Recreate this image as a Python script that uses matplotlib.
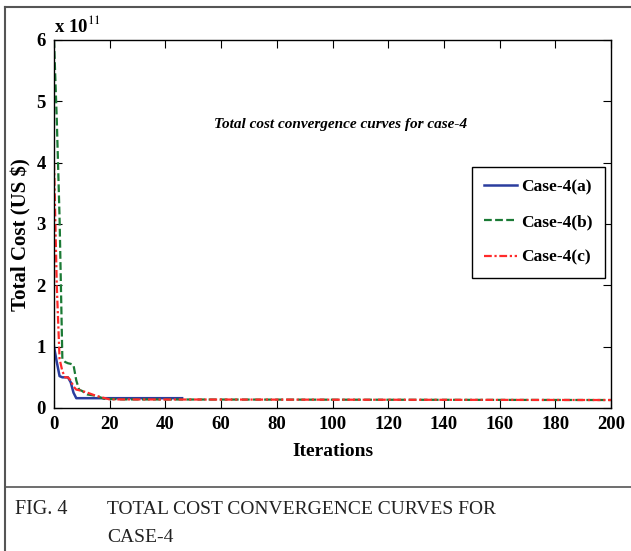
import matplotlib as mpl
mpl.use('Agg')
import matplotlib.pyplot as plt
from matplotlib.lines import Line2D

plt.rcParams['font.family'] = 'serif'
plt.rcParams['font.serif'] = ['Liberation Serif', 'DejaVu Serif']
plt.rcParams['mathtext.fontset'] = 'stix'

# convergence data (values in units of 1e11 US $)
iter_a = [0, 1, 2, 3, 4, 5, 6, 7, 8, 10, 20, 30, 46]
cost_a = [1.0, 0.75, 0.52, 0.5, 0.5, 0.5, 0.42, 0.25, 0.16, 0.16, 0.16, 0.16, 0.16]

iter_b = [0, 1, 2, 3, 4, 5, 6, 7, 8, 9, 10, 12, 15, 18, 25, 200]
cost_b = [6.0, 4.7, 3.1, 0.8, 0.75, 0.73, 0.72, 0.7, 0.45, 0.3, 0.28, 0.22, 0.2, 0.15, 0.14, 0.13]

iter_c = [0, 1, 2, 3, 4, 5, 6, 7, 8, 10, 12, 15, 20, 200]
cost_c = [4.0, 2.0, 0.8, 0.6, 0.5, 0.5, 0.45, 0.35, 0.3, 0.28, 0.25, 0.2, 0.14, 0.13]

labels = ['Case-4(a)', 'Case-4(b)', 'Case-4(c)']
xticks = list(range(0, 201, 20))
yticks = [0, 1, 2, 3, 4, 5, 6]

fig = plt.figure(figsize=(6.31, 5.51), dpi=100)
ax = fig.add_axes([54/631, 1 - 408/551, (611 - 54)/631, (408 - 40)/551])

ax.plot(iter_a, cost_a, color='#2b3d9e', lw=1.8, ls='-', label=labels[0])
ax.plot(iter_b, cost_b, color='#1b7a35', lw=1.6, ls=(0, (3.5, 1.5)), label=labels[1])
ax.plot(iter_c, cost_c, color='#ff2a2a', lw=1.6, ls=(0, (3.5, 1.2, 1, 1.2)), label=labels[2])

ax.set_xlim(0, 200)
ax.set_ylim(0, 6)
ax.set_xticks(xticks)
ax.set_yticks(yticks)
ax.tick_params(direction='in', top=True, right=True, length=6, width=0.8,
               labelsize=13.5, pad=6)
for lab in ax.get_xticklabels() + ax.get_yticklabels():
    lab.set_fontweight('bold')
for s in ax.spines.values():
    s.set_linewidth(1.0)

ax.set_xlabel('Iterations', fontsize=14, fontweight='bold', labelpad=7)
ax.set_ylabel('Total Cost (US $)', fontsize=15, fontweight='bold')
ax.yaxis.set_label_coords(-0.04, 0.47)
ax.text(0.0, 1.01, r'x 10$^{11}$', transform=ax.transAxes, fontsize=13.5,
        fontweight='bold', ha='left', va='bottom')
ax.text(0.515, 0.77, 'Total cost convergence curves for case-4',
        transform=ax.transAxes, fontsize=11, fontweight='bold',
        style='italic', ha='center', va='center')

leg = ax.legend(loc='upper left', bbox_to_anchor=(472/631, 1 - 167/551),
                bbox_transform=fig.transFigure, fancybox=False,
                edgecolor='black', framealpha=1, handlelength=1.9,
                handletextpad=0.25, borderpad=0.7, borderaxespad=0,
                labelspacing=1.1, prop={'size': 12.5, 'weight': 'bold'})
leg.get_frame().set_linewidth(1.0)

# outer figure frame and caption separator
gray = '#555555'
fig.add_artist(Line2D([5/631, 5/631], [0, 1 - 7/551], color=gray, lw=1.5))
fig.add_artist(Line2D([5/631, 1], [1 - 7/551, 1 - 7/551], color=gray, lw=1.5))
fig.add_artist(Line2D([5/631, 1], [1 - 487/551, 1 - 487/551], color=gray, lw=1.2))

fig.text(15/631, 1 - 510/551, 'FIG. 4', fontsize=14.5, va='center', ha='left',
         color='#222222')
fig.text(107/631, 1 - 510/551, 'TOTAL COST CONVERGENCE CURVES FOR',
         fontsize=14, va='center', ha='left', color='#222222')
fig.text(107/631, 1 - 537/551, 'CASE-4', fontsize=14, va='center', ha='left',
         color='#222222')

fig.savefig('out.png', dpi=100)
